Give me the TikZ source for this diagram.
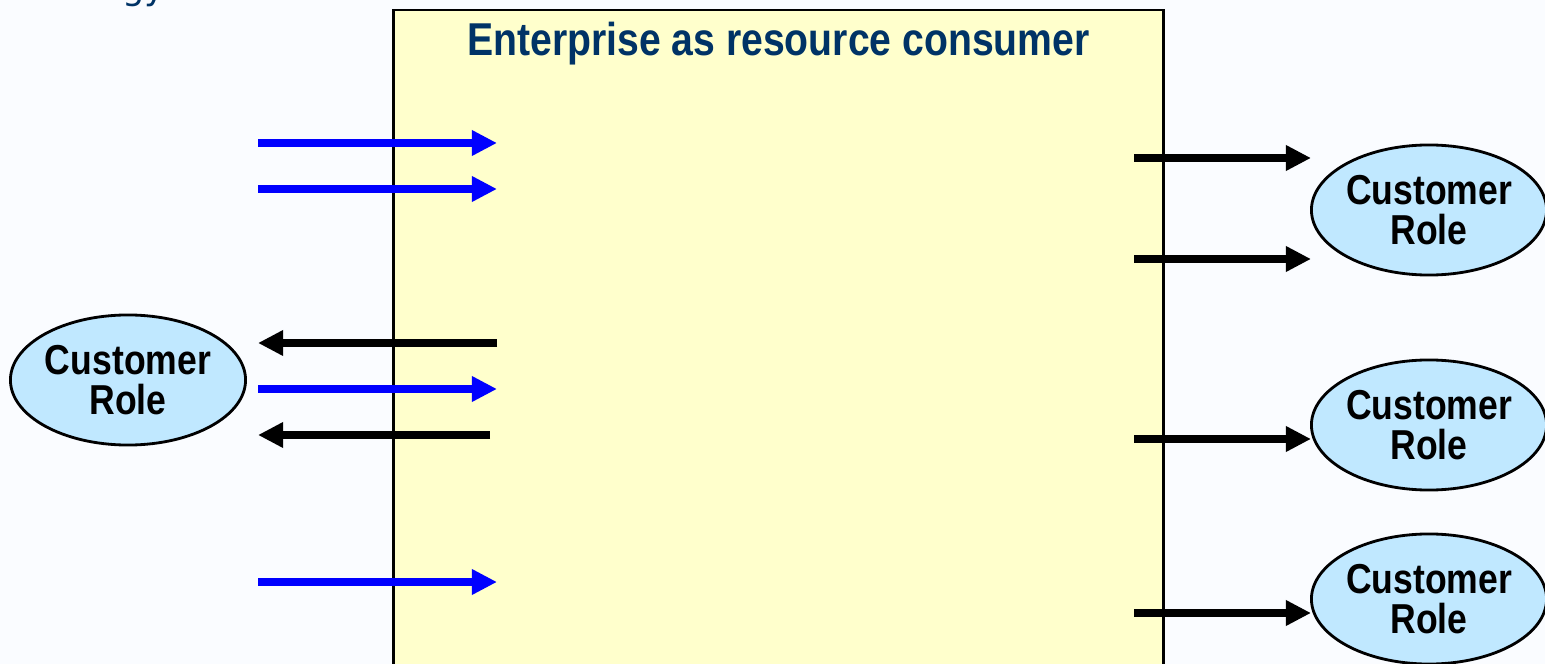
\documentclass[tikz,border=0pt]{standalone}
\usepackage{fontspec}
\setmainfont{Liberation Sans}
\newfontfamily\narrowsf[FakeStretch=0.85]{Liberation Sans}
\newfontfamily\partfont{DejaVu Sans}
\usepackage{tikz}
\usetikzlibrary{positioning,arrows.meta,shapes.geometric}
\definecolor{boxyellow}{RGB}{255,255,204}
\definecolor{rolecolor}{RGB}{192,232,255}
\definecolor{titleblue}{RGB}{0,51,102}
\definecolor{bgcolor}{RGB}{250,252,255}
\definecolor{flowblue}{RGB}{0,0,255}

\begin{document}
\begin{tikzpicture}[x=0.01cm,y=-0.01cm,
role/.style={draw,thick,ellipse,fill=rolecolor,minimum width=2.35cm,minimum height=1.3cm,inner sep=0pt,align=center,font=\narrowsf\bfseries\fontsize{11.9}{11.4}\selectfont},
inarr/.style={-{Triangle[length=0.25cm,width=0.24cm]},line width=0.075cm,flowblue},
outarr/.style={-{Triangle[length=0.25cm,width=0.24cm]},line width=0.075cm,black}]
\path[use as bounding box,fill=bgcolor] (0,0) rectangle (1545,664);
\node[anchor=base east,inner sep=0pt,text=titleblue,font=\partfont\fontsize{10}{12}\selectfont] (head) at (166,0) {gy};
\node[draw,line width=0.025cm,fill=boxyellow,anchor=north west,minimum width=7.7cm,minimum height=7cm,inner sep=0pt] (ent) at (392,9) {};
\node[anchor=base,text=titleblue,font=\narrowsf\bfseries\fontsize{13.1}{15}\selectfont] (title) at ([yshift=-0.46cm]ent.north) {Enterprise as resource consumer};
% roles
\node[role] (lrole) at (128,380) {Customer\\Role};
\node[role] (rrole1) at (1429,210) {Customer\\Role};
\node[role] (rrole2) at (1429,425) {Customer\\Role};
\node[role] (rrole3) at (1429,599) {Customer\\Role};
% flows into the enterprise
\foreach \y [count=\i] in {143,189,389,582} {
  \coordinate (inS\i) at (258,\y); \coordinate (inE\i) at (497,\y);
  \draw[inarr] (inS\i) -- (inE\i);
}
% flows back to the left role
\coordinate (backS1) at (497,343); \coordinate (backE1) at (258,343);
\coordinate (backS2) at (490,435); \coordinate (backE2) at (258,435);
\draw[outarr] (backS1) -- (backE1);
\draw[outarr] (backS2) -- (backE2);
% flows out to the right roles
\foreach \y [count=\i] in {158,259,439,613} {
  \coordinate (outS\i) at (1134,\y); \coordinate (outE\i) at (1311,\y);
  \draw[outarr] (outS\i) -- (outE\i);
}
\end{tikzpicture}
\end{document}
